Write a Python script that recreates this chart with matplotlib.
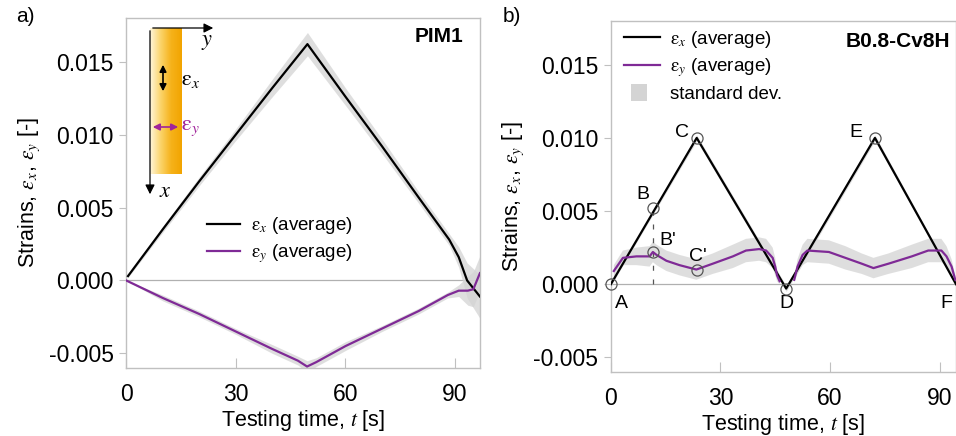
import numpy as np
import matplotlib
matplotlib.use("Agg")
import matplotlib.pyplot as plt
from matplotlib.colors import LinearSegmentedColormap
from matplotlib.patches import Patch, Rectangle, FancyArrowPatch
from matplotlib.lines import Line2D
from matplotlib.legend_handler import HandlerPatch

plt.rcParams['font.family'] = ['Liberation Sans', 'DejaVu Sans']
plt.rcParams['mathtext.fontset'] = 'stix'

nan = np.nan

# panel a) PIM1
t_ax = [0.5, 10, 20, 30, 40, 49.6, 60, 70, 80, 88.4, 91, 93.3, 96.8]
ex_a = [0.0003, 0.0035, 0.0068, 0.0100, 0.0132, 0.0162, 0.0126, 0.0092, 0.0057, 0.0028, 0.0016, 0.0000, -0.0011]
sdx_a = [0.0001, 0.0002, 0.0003, 0.0004, 0.0006, 0.0008, 0.0006, 0.0005, 0.0004, 0.0004, 0.0007, 0.0012, 0.0015]

t_ay = [0, 5, 10, 20, 30, 40, 47, 49.5, 52, 60, 70, 80, 88, 91, 93.5, 95, 96.8]
ey_a = [0.0, -0.0006, -0.0012, -0.0023, -0.0035, -0.0047, -0.0055, -0.0059, -0.0056, -0.0045, -0.0033, -0.0021, -0.0010, -0.0007, -0.0007, -0.0006, 0.0005]
sdy_a = [0.0, 0.0001, 0.0002, 0.0002, 0.0002, 0.0003, 0.0003, 0.0004, 0.0003, 0.0003, 0.0002, 0.0002, 0.0002, 0.0004, 0.0010, 0.0012, 0.0012]

# panel b) B0.8-Cv8H
t_bx = [0, 23.5, 48, 72.3, 94.5]
ex_b = [0.0, 0.0100, -0.0003, 0.0100, 0.0]
sdx_b = [0.0001, 0.0002, 0.0002, 0.0002, 0.0001]

t_by = [0.8, 3.3, 7, 10.6, 11.5, 12.5, 15.2, 18.8, 23.4, 27.9, 33.4, 37, 40.6, 42.5, 44.3, 45, 45.5, 46.2,
        47.5,
        50.2, 51.1, 52.5, 53.8, 59.7, 64.2, 68.7, 71.9, 76, 82.4, 86.9, 90.5, 91.9, 93.3, 94.3]
ey_b = [0.0009, 0.0018, 0.0019, 0.0019, 0.0022, 0.0020, 0.0016, 0.0013, 0.0010, 0.0014, 0.0019, 0.0023, 0.0024, 0.0023, 0.0018, 0.0012, 0.0006, 0.0002,
        nan,
        0.0003, 0.0012, 0.0020, 0.0023, 0.0022, 0.0018, 0.0014, 0.0011, 0.0014, 0.0019, 0.0023, 0.0023, 0.0019, 0.0012, 0.0003]
sdy_b = [0.0004, 0.0005, 0.0006, 0.0007, 0.0007, 0.0007, 0.0007, 0.0007, 0.0007, 0.0007, 0.0008, 0.0008, 0.0008, 0.0008, 0.0007, 0.0006, 0.0004, 0.0002,
         nan,
         0.0002, 0.0005, 0.0007, 0.0008, 0.0008, 0.0008, 0.0007, 0.0007, 0.0007, 0.0008, 0.0008, 0.0008, 0.0007, 0.0005, 0.0003]

pt_t = [0, 11.5, 11.5, 23.5, 23.5, 48, 72.3]
pt_v = [0.0, 0.0052, 0.0022, 0.0100, 0.0010, -0.0003, 0.0100]
lab_names = ['A', 'B', "B'", 'C', "C'", 'D', 'E', 'F']
lab_t = [3.0, 8.8, 15.5, 19.4, 23.7, 48, 67.1, 91.9]
lab_v = [-0.0013, 0.0061, 0.0030, 0.0104, 0.0019, -0.0013, 0.0104, -0.0013]

purple = '#7f2a96'
band = '#d4d4d4'
spine = '#c0c0c0'
eps = r'$\mathrm{\varepsilon}_{%s}$'

fig = plt.figure(figsize=(9.56, 4.36), dpi=100)
axa = fig.add_axes([0.132, 0.156, 0.370, 0.803])
axb = fig.add_axes([0.639, 0.147, 0.361, 0.805])


def style(ax, xmax):
    ax.set_xlim(0, xmax)
    ax.set_ylim(-0.006, 0.018)
    ax.set_xticks([0, 30, 60, 90])
    ax.set_yticks([-0.005, 0.0, 0.005, 0.010, 0.015])
    ax.set_yticklabels(['-0.005', '0.000', '0.005', '0.010', '0.015'])
    for s in ax.spines.values():
        s.set_color(spine)
        s.set_linewidth(1.0)
    ax.tick_params(axis='x', direction='in', length=7, color=spine, labelsize=16.5, pad=11)
    ax.tick_params(axis='y', direction='out', length=5, color=spine, labelsize=16.5, pad=4)
    ax.axhline(0, color='#b0b0b0', lw=0.9, zorder=1)
    ax.set_xlabel(r'Testing time, $t$ [s]', fontsize=15.5, labelpad=1)
    ax.set_ylabel(r'Strains, $\varepsilon_x$, $\varepsilon_y$ [-]', fontsize=15.5, labelpad=5)


# ---- panel a
ex = np.array(ex_a); sx = np.array(sdx_a)
ey = np.array(ey_a); sy = np.array(sdy_a)
axa.fill_between(t_ax, ex - sx, ex + sx, color=band, alpha=0.75, lw=0, zorder=2)
axa.fill_between(t_ay, ey - sy, ey + sy, color=band, alpha=0.75, lw=0, zorder=2)
axa.plot(t_ax, ex_a, color='black', lw=1.6, zorder=4, label=eps % 'x' + ' (average)')
axa.plot(t_ay, ey_a, color=purple, lw=1.6, zorder=4, label=eps % 'y' + ' (average)')
style(axa, 96.8)
axa.text(0.952, 0.946, 'PIM1', transform=axa.transAxes, ha='right', va='center',
         fontsize=15, fontweight='bold')
axa.legend(loc='center left', bbox_to_anchor=(0.18, 0.365), frameon=False, fontsize=13.5,
           handlelength=1.8, handletextpad=0.55, labelspacing=0.3)

# inset sketch of specimen (figure pixel coords -> fractions)
W, H = 956.0, 436.0
def fx(px):
    return px / W
def fy(py):
    return 1 - py / H

cmap = LinearSegmentedColormap.from_list('orng', ['#fff6dc', '#fbd46a', '#f6b21a', '#f2a400'])
grad_ax = fig.add_axes([fx(150), fy(174), fx(182) - fx(150), fy(28) - fy(174)])
grad_ax.imshow(np.linspace(0, 1, 128)[None, :], aspect='auto', cmap=cmap)
grad_ax.axis('off')
arr = dict(arrowstyle='-|>', color='black', lw=0.9, mutation_scale=14)
fig.patches.append(FancyArrowPatch((fx(150), fy(28)), (fx(216), fy(28)),
                   transform=fig.transFigure, **arr))
fig.patches.append(FancyArrowPatch((fx(150), fy(28)), (fx(150), fy(197)),
                   transform=fig.transFigure, **arr))
fig.patches.append(FancyArrowPatch((fx(163), fy(62)), (fx(163), fy(94)),
                   transform=fig.transFigure, arrowstyle='<|-|>', color='black', lw=1.2,
                   mutation_scale=10))
fig.patches.append(FancyArrowPatch((fx(150), fy(127)), (fx(181), fy(127)),
                   transform=fig.transFigure, arrowstyle='<|-|>', color='#a0249a', lw=1.2,
                   mutation_scale=10))
fig.text(fx(207), fy(42), r'$y$', fontsize=16, ha='center', va='center')
fig.text(fx(165), fy(191), r'$x$', fontsize=16, ha='center', va='center')
fig.text(fx(181), fy(80), eps % 'x', fontsize=16, ha='left', va='center')
fig.text(fx(181), fy(127), eps % 'y', fontsize=16, ha='left', va='center', color='#a0249a')

# ---- panel b
bx = np.array(ex_b); bsx = np.array(sdx_b)
by = np.array(ey_b); bsy = np.array(sdy_b)
axb.fill_between(t_bx, bx - bsx, bx + bsx, color=band, alpha=0.75, lw=0, zorder=2)
axb.fill_between(t_by, by - bsy, by + bsy, color=band, alpha=0.75, lw=0, zorder=2)
axb.plot(t_bx, ex_b, color='black', lw=1.6, zorder=4)
axb.plot(t_by, ey_b, color=purple, lw=1.6, zorder=4)
axb.vlines(pt_t[1], 0, pt_v[1], color='#555555', lw=0.9, linestyles=(0, (4, 7)), zorder=3)
axb.plot(pt_t, pt_v, 'o', ms=8, mfc='none', mec='#555555', mew=0.9, zorder=5, clip_on=False)
for n, t, v in zip(lab_names, lab_t, lab_v):
    axb.text(t, v, n, fontsize=14, ha='center', va='center')
style(axb, 94.5)
axb.text(0.983, 0.94, 'B0.8-Cv8H', transform=axb.transAxes, ha='right', va='center',
         fontsize=15, fontweight='bold')


def square(legend, orig_handle, xdescent, ydescent, width, height, fontsize):
    s = height * 1.3
    return Rectangle((-xdescent + 0.2 * width, -ydescent + height / 2 - s / 2), s * 0.9, s)


handles = [Line2D([], [], color='black', lw=1.6),
           Line2D([], [], color=purple, lw=1.6),
           Patch(facecolor=band, edgecolor='none')]
labels = [eps % 'x' + ' (average)', eps % 'y' + ' (average)', 'standard dev.']
axb.legend(handles, labels, loc='upper left', bbox_to_anchor=(-0.01, 1.025), frameon=False,
           fontsize=13.5, handlelength=1.9, handletextpad=0.55, labelspacing=0.35,
           handler_map={Patch: HandlerPatch(patch_func=square)})

fig.text(fx(25), fy(17), 'a)', fontsize=15, ha='center', va='center')
fig.text(fx(512), fy(17), 'b)', fontsize=15, ha='center', va='center')

fig.savefig('out.png', dpi=100)
